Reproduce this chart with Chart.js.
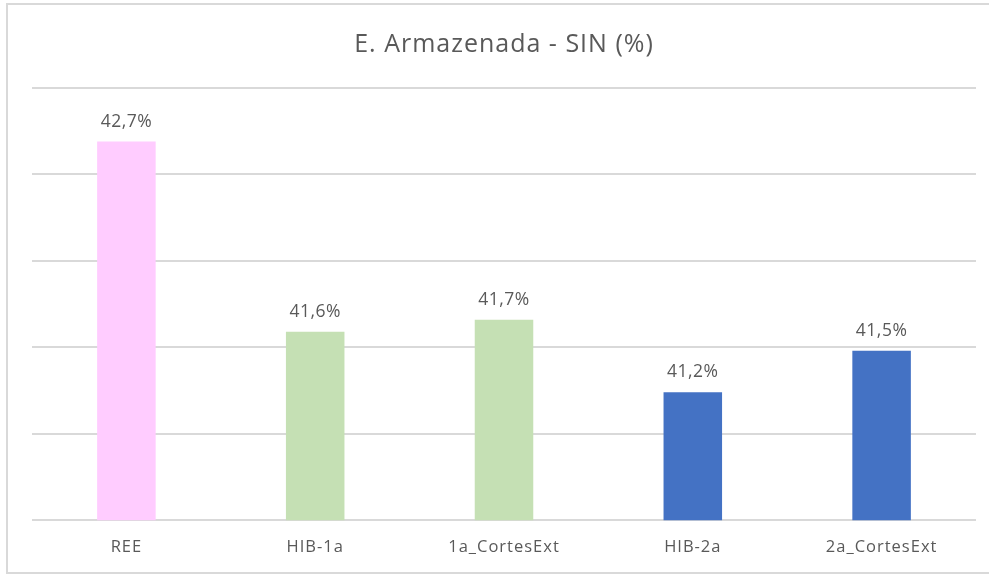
<!DOCTYPE html>
<html>
<head>
<meta charset="utf-8">
<title>E. Armazenada - SIN (%)</title>
<script src="https://cdn.jsdelivr.net/npm/chart.js@4.4.1/dist/chart.umd.min.js"></script>
<style>
  html, body { margin: 0; padding: 0; background: #ffffff; }
  #grafico { display: block; }
</style>
</head>
<body>
<canvas id="grafico" width="989" height="574"></canvas>
<script>
// DADOS:
const categorias = ["REE", "HIB-1a", "1a_CortesExt", "HIB-2a", "2a_CortesExt"];
const energiaArmazenada = [42.69, 41.59, 41.66, 41.24, 41.48];
const coresBarras = ["#FFCCFF", "#C5E0B4", "#C5E0B4", "#4472C4", "#4472C4"];

const corTexto = "#595959";
const corGrade = "#D9D9D9";

// rótulos em cima das barras (formato pt-BR com vírgula)
const rotulosBarras = {
    id: "rotulosBarras",
    afterDatasetsDraw(chart) {
        const ctx = chart.ctx;
        const meta = chart.getDatasetMeta(0);
        ctx.save();
        ctx.letterSpacing = "0.5px";
        ctx.fillStyle = corTexto;
        ctx.font = "17.5px 'Open Sans'";
        ctx.textAlign = "center";
        ctx.textBaseline = "alphabetic";
        meta.data.forEach((barra, i) => {
            const txt = energiaArmazenada[i].toFixed(1).replace(".", ",") + "%";
            ctx.fillText(txt, barra.x, barra.y - 15);
        });
        ctx.restore();
    }
};

// moldura cinza + espaçamento das letras (o original é mais largo)
const moldura = {
    id: "moldura",
    beforeDraw(chart) {
        const ctx = chart.ctx;
        ctx.save();
        ctx.strokeStyle = corGrade;
        ctx.lineWidth = 2;
        ctx.beginPath();
        ctx.moveTo(1000, 4);
        ctx.lineTo(7, 4);
        ctx.lineTo(7, 573);
        ctx.lineTo(1000, 573);
        ctx.stroke();
        ctx.restore();
        ctx.letterSpacing = "1px"; // título
    },
    beforeDatasetsDraw(chart) {
        chart.ctx.letterSpacing = "0.7px"; // rótulos do eixo x (z: 1)
    },
    afterDraw(chart) {
        chart.ctx.letterSpacing = "0px";
    }
};

new Chart(document.getElementById("grafico"), {
    type: "bar",
    data: {
        labels: categorias,
        datasets: [{
            label: "E. Armazenada - SIN (%)",
            data: energiaArmazenada,
            backgroundColor: coresBarras,
            barPercentage: 0.31,
            categoryPercentage: 1.0
        }]
    },
    options: {
        responsive: false,
        animation: false,
        layout: {
            padding: { left: 32, right: 13, top: 0, bottom: 0 }
        },
        plugins: {
            legend: { display: false },
            tooltip: { enabled: false },
            title: {
                display: true,
                text: "E. Armazenada - SIN (%)",
                color: corTexto,
                font: { family: "'Open Sans'", size: 25, weight: "normal" },
                padding: { top: 30, bottom: 28 }
            }
        },
        scales: {
            x: {
                z: 1,
                grid: { display: false, drawTicks: false },
                border: { display: false },
                ticks: {
                    color: corTexto,
                    font: { family: "'Open Sans'", size: 16.5 },
                    padding: 17
                }
            },
            y: {
                min: 40.5,
                max: 43.0,
                grid: { color: corGrade, lineWidth: 2, drawTicks: false },
                border: { display: false },
                ticks: { display: false, stepSize: 0.5 }
            }
        }
    },
    plugins: [moldura, rotulosBarras]
});
</script>
</body>
</html>
